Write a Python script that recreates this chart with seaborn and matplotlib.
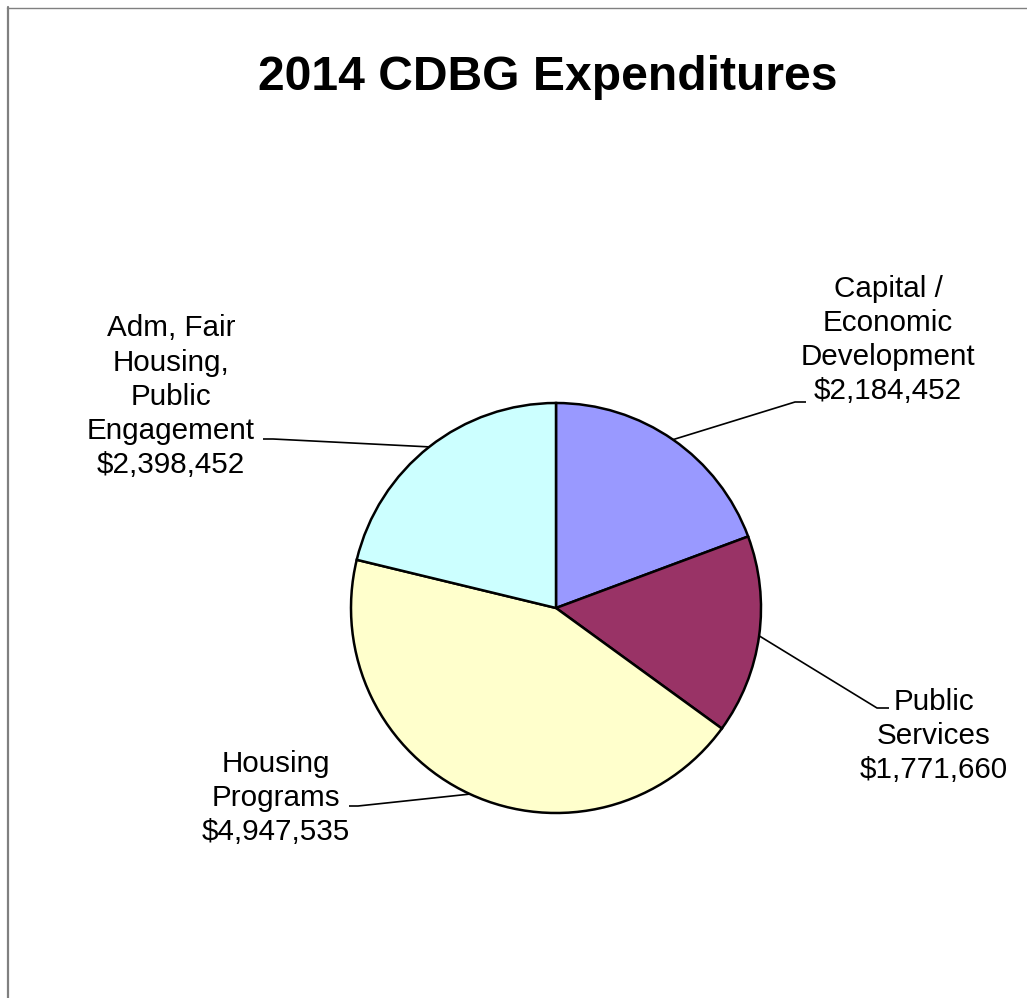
import numpy as np
import matplotlib
matplotlib.use("Agg")
import matplotlib.pyplot as plt
from matplotlib.lines import Line2D
import seaborn as sns

# Expenditure categories and amounts (USD)
categories = [
    "Capital /\nEconomic\nDevelopment",
    "Public\nServices",
    "Housing\nPrograms",
    "Adm, Fair\nHousing,\nPublic\nEngagement",
]
amounts = [2184452, 1771660, 4947535, 2398452]
colors = ["#9999FF", "#993366", "#FFFFCC", "#CCFFFF"]
title = "2014 CDBG Expenditures"

sns.set_theme(style="white")
plt.rcParams["font.family"] = ["Liberation Sans", "DejaVu Sans"]

W, H = 1027, 998
fig = plt.figure(figsize=(W / 100, H / 100), dpi=100)
ax = fig.add_axes([0, 0, 1, 1])


def yy(y):
    # pixel row (top-down) to data y (bottom-up)
    return H - y


cx, cy, r = 556, yy(608), 205
wedges, _ = ax.pie(
    amounts,
    colors=colors,
    startangle=90,
    counterclock=False,
    center=(cx, cy),
    radius=r,
    frame=True,
    wedgeprops=dict(edgecolor="black", linewidth=1.8),
)
ax.set_xlim(0, W)
ax.set_ylim(0, H)
ax.set_aspect("auto")
ax.axis("off")

# Label layout: (elbow point, end of short horizontal tick, text centre x,
# baseline of the last text line)
layout = [
    ((795, 402), (806, 402), 888, 399),
    ((877, 708), (889, 708), 934, 778),
    ((358, 806), (349, 806), 276, 840),
    ((273, 439), (263, 439), 171, 473),
]

fs = 21.3
for w, cat, amt, (elbow, tick, tx, ty) in zip(wedges, categories, amounts, layout):
    mid = np.deg2rad((w.theta1 + w.theta2) / 2)
    ex, ey = cx + r * np.cos(mid), cy + r * np.sin(mid)
    ax.plot([ex, elbow[0], tick[0]], [ey, yy(elbow[1]), yy(tick[1])],
            color="black", lw=1.2, solid_capstyle="butt", zorder=1)
    ax.text(tx, yy(ty), f"{cat}\n${amt:,}", ha="center", va="baseline",
            multialignment="center", fontsize=fs, linespacing=1.28,
            color="black")

ax.text(548, yy(90), title, ha="center", va="baseline", fontsize=34.6,
        fontweight="bold", color="black")

# Chart-area border (left and top edges)
fig.add_artist(Line2D([8 / W, 8 / W], [0, 1 - 7 / H], transform=fig.transFigure,
                      color="#808080", lw=1.6))
fig.add_artist(Line2D([7 / W, 1], [1 - 7.5 / H, 1 - 7.5 / H], transform=fig.transFigure,
                      color="#808080", lw=1.0))

fig.savefig("out.png", dpi=100, facecolor="white")
